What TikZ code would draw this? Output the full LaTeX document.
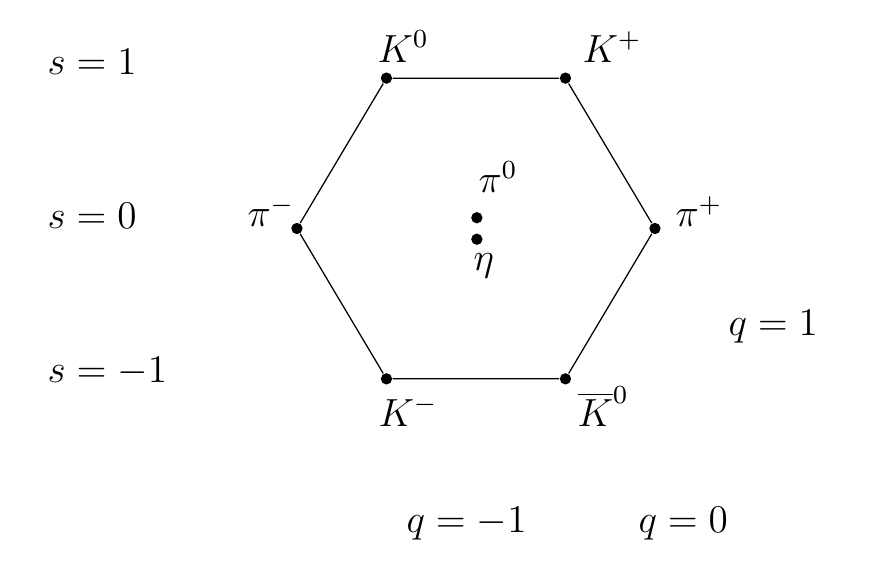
\documentclass[tikz,border=0pt]{standalone}
\usepackage{tikz}
\usetikzlibrary{positioning}

\newcommand{\octlbl}[1]{\scalebox{1.04}{\large #1}}

\begin{document}
\begin{tikzpicture}[
    meson/.style={circle, fill=black, inner sep=0pt, minimum size=3.6pt},
    lbl/.style={anchor=base west, inner sep=0pt},
    every path/.style={thin}]
    \useasboundingbox (-5.318,-3.827) rectangle (4.425,2.553);

    % weights of the octet
    \node[meson] (k0)   at (-1, 1.68) {};
    \node[meson] (kp)   at ( 1, 1.68) {};
    \node[meson] (pip)  at ( 2, 0)    {};
    \node[meson] (k0b)  at ( 1,-1.68) {};
    \node[meson] (km)   at (-1,-1.68) {};
    \node[meson] (pim)  at (-2, 0)    {};
    \node[meson] (pi0)  at (0.01, 0.12)  {};
    \node[meson] (eta)  at (0.01,-0.12)  {};

    \draw (k0) -- (kp) -- (pip) -- (k0b) -- (km) -- (pim) -- (k0);

    % names
    \node[lbl] (k0-l)  at (-1.106, 1.860) {\octlbl{$K^0$}};
    \node[lbl] (kp-l)  at ( 1.184, 1.860) {\octlbl{$K^+$}};
    \node[lbl] (pip-l) at ( 2.223, 0.017) {\octlbl{$\pi^+$}};
    \node[lbl] (k0b-l) at ( 1.128,-2.207) {\octlbl{$\overline{K}^0$}};
    \node[lbl] (km-l)  at (-1.095,-2.207) {\octlbl{$K^-$}};
    \node[lbl] (pim-l) at (-2.559, 0.017) {\octlbl{$\pi^-$}};
    \node[lbl] (pi0-l) at ( 0.022, 0.397) {\octlbl{$\pi^0$}};
    \node[lbl] (eta-l) at (-0.034,-0.464) {\octlbl{$\eta$}};

    % strangeness and charge
    \node[lbl] (s1)  at (-4.793, 1.715) {\octlbl{$s=1$}};
    \node[lbl] (s0)  at (-4.793, 0)     {\octlbl{$s=0$}};
    \node[lbl] (sm1) at (-4.793,-1.726) {\octlbl{$s=-1$}};
    \node[lbl] (q1)  at ( 2.816,-1.201) {\octlbl{$q=1$}};
    \node[lbl] (qm1) at (-0.782,-3.402) {\octlbl{$q=-1$}};
    \node[lbl] (q0)  at ( 1.810,-3.402) {\octlbl{$q=0$}};

\end{tikzpicture}
\end{document}
